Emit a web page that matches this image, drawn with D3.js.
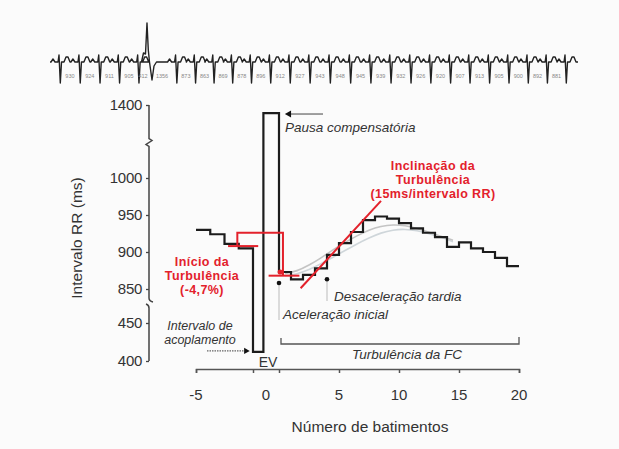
<!DOCTYPE html>
<html>
<head>
<meta charset="utf-8">
<script src="https://cdn.jsdelivr.net/npm/d3@7"></script>
<style>
  body { margin: 0; background: #fbfbfb; }
  svg { display: block; font-family: "Liberation Sans", Arial, sans-serif; }
</style>
</head>
<body>
<div id="chart"></div>
<script>
var svgWidth = 619;
var svgHeight = 449;

// RR intervals (ms)
var preBeats = [-4, -3, -2, -1];
var preRR = [930, 924, 911, 905];
var couplingRR = 412;
var pauseRR = 1356;
var postBeats = [1, 2, 3, 4, 5, 6, 7, 8, 9, 10, 11, 12, 13, 14, 15, 16, 17, 18, 19, 20];
var postRR = [873, 863, 869, 878, 896, 912, 927, 943, 948, 945, 939, 932, 926, 920, 907, 913, 905, 900, 892, 881];

// light averaged curves behind the step line
var avgBeats = [0.5, 1.5, 2.5, 3.5, 4.5, 5.5, 6.5, 7.5, 8.5, 9.5, 10.5, 11.5, 12.5, 13.5, 14.5];
var avgLow = [868, 870, 876, 884, 893, 902, 911, 919, 926, 930, 931, 929, 925, 920, 914];
var avgHigh = [871, 874, 882, 892, 903, 913, 922, 930, 935, 937, 936, 932, 927, 921, 916];

// axis ticks
var xTicks = [-5, 0, 5, 10, 15, 20];
var xTickMarks = [-5, -1, 0, 5, 10, 15, 20];
var yTicks = [400, 450, 850, 900, 950, 1000, 1400];

var evWidth = 0.4;   // EV beat drawn narrower than a normal beat

var svg = d3.select("#chart")
  .append("svg")
  .attr("width", svgWidth)
  .attr("height", svgHeight);

// piecewise scales: the y axis is broken twice
var x = d3.scaleLinear()
  .domain([-5, -1, 0, 20])
  .range([196, 253, 279, 519]);

var y = d3.scaleLinear()
  .domain([400, 450, 850, 1000, 1400])
  .range([361, 323, 289, 178, 105]);

var axisX = 149;
var axisY = 369;

// ---------- ECG strip ----------
var ecgRR = preRR.concat([couplingRR, pauseRR], postRR);
var rTimes = [0];
ecgRR.forEach(function(rr, i) { rTimes.push(rTimes[i] + rr); });
var vpcIndex = preRR.length + 1;

var t = d3.scaleLinear()
  .domain([0, rTimes[rTimes.length - 1]])
  .range([60, 566]);

var base = 62;
var normalShape = [[-9, 0], [-7, -3], [-5, 0], [-2, 0], [-1, -7], [0.3, 21], [1.5, 0], [4, 0], [6, -5], [8, -5], [10, 0]];
var vpcShape = [[-6, 0], [-4, -9], [-2, -8], [-0.5, -39], [0.8, -12], [2, 0], [4.5, 18], [6.5, 4], [9, 0]];

var ecgPts = [[t(0) - 10, base]];
rTimes.forEach(function(rt, i) {
  var shape = i === vpcIndex ? vpcShape : normalShape;
  shape.forEach(function(p) { ecgPts.push([t(rt) + p[0], base + p[1]]); });
});
ecgPts.push([t(rTimes[rTimes.length - 1]) + 12, base]);

svg.append("path")
  .attr("d", d3.line()(ecgPts))
  .attr("fill", "none")
  .attr("stroke", "#222")
  .attr("stroke-width", 1.4)
  .attr("stroke-linejoin", "round");

svg.append("g").selectAll("text")
  .data(ecgRR)
  .enter()
  .append("text")
  .attr("x", function(d, i) { return (t(rTimes[i]) + t(rTimes[i + 1])) / 2; })
  .attr("y", 78)
  .attr("text-anchor", "middle")
  .attr("font-size", "5.5px")
  .attr("fill", "#888")
  .text(function(d) { return d; });

// ---------- axes ----------
var yAxis = svg.append("g")
  .attr("transform", "translate(" + axisX + ",0)")
  .call(d3.axisLeft(y).tickValues(yTicks).tickSize(3).tickPadding(4).tickFormat(d3.format("d")));
yAxis.select(".domain").remove();
yAxis.selectAll("line").attr("stroke", "#444").attr("stroke-width", 1.3);
yAxis.selectAll("text")
  .attr("font-size", "15px")
  .attr("font-family", "Liberation Sans, Arial, sans-serif")
  .attr("fill", "#333")
  .attr("letter-spacing", "-0.3");

var breakHi = (y(1000) + y(1400)) / 2;
var breakLo = y(850) + 9;
var yPath = d3.path();
yPath.moveTo(axisX, y(1400));
yPath.lineTo(axisX, breakHi - 3);
yPath.lineTo(axisX + 3, breakHi - 1);
yPath.lineTo(axisX - 3, breakHi + 3);
yPath.lineTo(axisX, breakHi + 5);
yPath.lineTo(axisX, breakLo);
yPath.quadraticCurveTo(axisX, breakLo + 3, axisX + 4, breakLo + 4);
yPath.moveTo(axisX - 3, breakLo + 6);
yPath.quadraticCurveTo(axisX, breakLo + 7, axisX, breakLo + 10);
yPath.lineTo(axisX, y(400));
svg.append("path")
  .attr("d", yPath.toString())
  .attr("fill", "none")
  .attr("stroke", "#444")
  .attr("stroke-width", 1.5);

var xAxis = svg.append("g")
  .attr("transform", "translate(0," + axisY + ")")
  .call(d3.axisBottom(x).tickValues(xTickMarks).tickSize(4).tickFormat(""));
xAxis.selectAll("line, path").attr("stroke", "#555").attr("stroke-width", 1.5);

svg.append("g").selectAll("text")
  .data(xTicks)
  .enter()
  .append("text")
  .attr("x", function(d) { return d === 0 ? (x(-1) + x(0)) / 2 : x(d); })
  .attr("y", 400)
  .attr("text-anchor", "middle")
  .attr("font-size", "15px")
  .attr("fill", "#333")
  .text(function(d) { return d; });

svg.append("text")
  .attr("x", 370)
  .attr("y", 432)
  .attr("text-anchor", "middle")
  .attr("font-size", "15.5px")
  .attr("fill", "#333")
  .text("Número de batimentos");

svg.append("text")
  .attr("transform", "translate(82,238) rotate(-90)")
  .attr("text-anchor", "middle")
  .attr("font-size", "15.5px")
  .attr("fill", "#333")
  .text("Intervalo RR (ms)");

// ---------- averaged curves ----------
var curveLine = d3.line()
  .x(function(d) { return x(d[0]); })
  .y(function(d) { return y(d[1]); })
  .curve(d3.curveBasis);

svg.append("path")
  .attr("d", curveLine(avgBeats.map(function(b, i) { return [b, avgLow[i]]; })))
  .attr("fill", "none")
  .attr("stroke", "#cfd6da")
  .attr("stroke-width", 1.6);

svg.append("path")
  .attr("d", curveLine(avgBeats.map(function(b, i) { return [b, avgHigh[i]]; })))
  .attr("fill", "none")
  .attr("stroke", "#c4c4c4")
  .attr("stroke-width", 1.6);

// ---------- tachogram step line ----------
var pts = [];
preBeats.forEach(function(b, i) { pts.push([b - 1, preRR[i]], [b, preRR[i]]); });
pts.push([-1, couplingRR], [-1 + evWidth, couplingRR]);
pts.push([-1 + evWidth, pauseRR], [0, pauseRR]);
postBeats.forEach(function(b, i) { pts.push([b - 1, postRR[i]], [b, postRR[i]]); });

var stepLine = d3.line()
  .x(function(d) { return x(d[0]); })
  .y(function(d) { return y(d[1]); });

svg.append("path")
  .attr("d", stepLine(pts))
  .attr("fill", "none")
  .attr("stroke", "#1c1c1c")
  .attr("stroke-width", 2.2)
  .attr("stroke-linejoin", "miter");

// ---------- red turbulence annotations ----------
var red = "#e3212b";
var preMean = (preRR[2] + preRR[3]) / 2;
var postMean = (postRR[0] + postRR[1]) / 2;
var onsetTop = 926;

var redLines = [
  [[-2.75, preMean], [-0.8, preMean]],
  [[-2.1, preMean], [-2.1, onsetTop], [0.33, onsetTop], [0.33, postMean]],
  [[-0.4, postMean], [1.7, postMean]],
  [[1.8, 851], [8.5, 969]]
];
svg.append("g").selectAll("path")
  .data(redLines)
  .enter()
  .append("path")
  .attr("d", stepLine)
  .attr("fill", "none")
  .attr("stroke", red)
  .attr("stroke-width", 2);

svg.append("circle")
  .attr("cx", x(0.1))
  .attr("cy", y(postRR[0]))
  .attr("r", 2.6)
  .attr("fill", red);

function redText(lines, cx, y0, dy) {
  svg.append("g").selectAll("text")
    .data(lines)
    .enter()
    .append("text")
    .attr("x", cx)
    .attr("y", function(d, i) { return y0 + i * dy; })
    .attr("text-anchor", "middle")
    .attr("font-size", "12.5px")
    .attr("font-weight", "bold")
    .attr("letter-spacing", "0.4")
    .attr("fill", red)
    .text(function(d) { return d; });
}
redText(["Inclinação da", "Turbulência", "(15ms/intervalo RR)"], 433, 170, 14);
redText(["Início da", "Turbulência", "(-4,7%)"], 202, 266, 14);

// ---------- black annotations ----------
var ink = "#333";
function note(txt, xx, yy, anchor, size) {
  return svg.append("text")
    .attr("x", xx)
    .attr("y", yy)
    .attr("text-anchor", anchor || "start")
    .attr("font-size", (size || 13.5) + "px")
    .attr("font-style", "italic")
    .attr("fill", ink)
    .text(txt);
}

// compensatory pause arrow
svg.append("line")
  .attr("x1", x(0) + 12).attr("x2", x(0) + 44)
  .attr("y1", y(pauseRR) + 1).attr("y2", y(pauseRR) + 1)
  .attr("stroke", "#888").attr("stroke-width", 1.6);
svg.append("path")
  .attr("d", d3.symbol(d3.symbolTriangle, 22)())
  .attr("transform", "translate(" + (x(0) + 10) + "," + (y(pauseRR) + 1) + ") rotate(-90)")
  .attr("fill", "#111");
note("Pausa compensatória", 285, 132);

// coupling interval arrow
svg.append("line")
  .attr("x1", 207).attr("x2", x(-1) - 9)
  .attr("y1", y(couplingRR) - 1).attr("y2", y(couplingRR) - 1)
  .attr("stroke", "#666").attr("stroke-width", 1.2)
  .attr("stroke-dasharray", "1.5,1");
svg.append("path")
  .attr("d", d3.symbol(d3.symbolTriangle, 18)())
  .attr("transform", "translate(" + (x(-1) - 7) + "," + (y(couplingRR) - 1) + ") rotate(90)")
  .attr("fill", "#111");
note("Intervalo de", 200, 330, "middle", 12.5);
note("acoplamento", 200, 344, "middle", 12.5);

svg.append("text")
  .attr("x", 268)
  .attr("y", 367)
  .attr("text-anchor", "middle")
  .attr("font-size", "14px")
  .attr("fill", ink)
  .text("EV");

// acceleration / deceleration markers
var markerBeats = [0, 4];
var leaderEnds = [320, 301];
svg.append("g").selectAll("line")
  .data(markerBeats)
  .enter()
  .append("line")
  .attr("x1", function(d) { return x(d); })
  .attr("x2", function(d) { return x(d); })
  .attr("y1", function(d) { return y(d === 0 ? postRR[0] : postRR[d - 1]) + 11; })
  .attr("y2", function(d, i) { return leaderEnds[i]; })
  .attr("stroke", "#bbb")
  .attr("stroke-width", 1);
svg.append("g").selectAll("circle")
  .data(markerBeats)
  .enter()
  .append("circle")
  .attr("cx", function(d) { return x(d); })
  .attr("cy", function(d) { return y(d === 0 ? postRR[0] : postRR[d - 1]) + 11; })
  .attr("r", 2.3)
  .attr("fill", "#111");
note("Desaceleração tardia", 334, 301);
note("Aceleração inicial", 283, 319);

// HRT bracket
var bracket = d3.path();
bracket.moveTo(x(0) + 2, 338);
bracket.lineTo(x(0) + 2, 344);
bracket.lineTo(x(20), 344);
bracket.lineTo(x(20), 337);
svg.append("path")
  .attr("d", bracket.toString())
  .attr("fill", "none")
  .attr("stroke", "#555")
  .attr("stroke-width", 1.3);
note("Turbulência da FC", 407, 359, "middle");
</script>
</body>
</html>
